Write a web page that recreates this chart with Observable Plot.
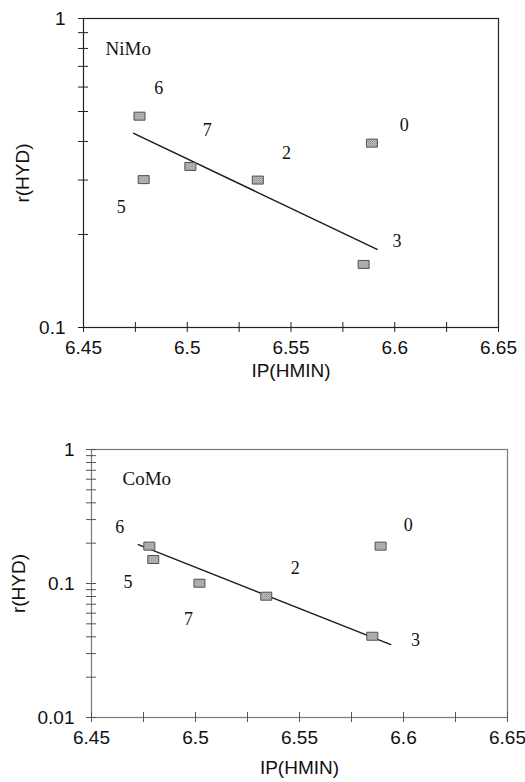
<!DOCTYPE html>
<html><head><meta charset="utf-8">
<script src="https://cdn.jsdelivr.net/npm/d3@7"></script>
<script src="https://cdn.jsdelivr.net/npm/@observablehq/plot@0.6"></script>
<style>body{margin:0;background:#fff} #c svg{display:block}</style>
</head><body><div id="c"></div>
<script>
// ---- data ----
const catalystIds = ["6", "5", "7", "2", "0", "3"];

const nimoIP = [6.477, 6.479, 6.5015, 6.534, 6.589, 6.585];
const nimoR  = [0.483, 0.301, 0.332, 0.300, 0.395, 0.160];
const nimoLabelIP = [6.4863, 6.4682, 6.5096, 6.5478, 6.6046, 6.6011];
const nimoLabelR  = [0.593, 0.2445, 0.434, 0.366, 0.453, 0.1906];
const nimoFitIP = [6.4742, 6.5915];
const nimoFitR  = [0.425, 0.179];

const comoIP = [6.4778, 6.4797, 6.5019, 6.534, 6.589, 6.585];
const comoR  = [0.19, 0.151, 0.1005, 0.0804, 0.19, 0.0404];
const comoLabelIP = [6.4636, 6.4676, 6.4966, 6.548, 6.6023, 6.6058];
const comoLabelR  = [0.264, 0.102, 0.0538, 0.131, 0.2714, 0.0379];
const comoFitIP = [6.4725, 6.5939];
const comoFitR  = [0.1948, 0.035];

const panelNames = ["NiMo", "CoMo"];
const nameIP = [6.4606, 6.4649];
const nameR  = [0.80, 0.607];

const xTicks = [6.45, 6.475, 6.5, 6.525, 6.55, 6.575, 6.6, 6.625, 6.65];
const xLabelTicks = [6.45, 6.5, 6.55, 6.6, 6.65];
const xTickLabels = ["6.45", "6.5", "6.55", "6.6", "6.65"];
const yTicksTop = [0.1, 0.2, 0.3, 0.4, 0.5, 0.6, 0.7, 0.8, 0.9, 1];
const yLabelTicksTop = [0.1, 1];
const yTickLabelsTop = ["0.1", "1"];
const yTicksBottom = [0.01, 0.02, 0.03, 0.04, 0.05, 0.06, 0.07, 0.08, 0.09,
                      0.1, 0.2, 0.3, 0.4, 0.5, 0.6, 0.7, 0.8, 0.9, 1];
const yLabelTicksBottom = [0.01, 0.1, 1];
const yTickLabelsBottom = ["0.01", "0.1", "1"];

// ---- drawing ----
const rectSymbol = {draw(ctx) { const w = 5.5, h = 4;
  ctx.moveTo(-w, -h); ctx.lineTo(w, -h); ctx.lineTo(w, h); ctx.lineTo(-w, h); ctx.closePath(); }};

function panel(cfg) {
  const pts = cfg.ip.map((v, i) => ({ip: v, r: cfg.r[i]}));
  const labs = cfg.labIP.map((v, i) => ({ip: v, r: cfg.labR[i], t: catalystIds[i]}));
  const fit = cfg.fitIP.map((v, i) => ({ip: v, r: cfg.fitR[i]}));
  const xFmt = d => xTickLabels[xLabelTicks.indexOf(d)];
  const yFmt = d => cfg.yLabels[cfg.yLabelTicks.indexOf(d)];
  const svg = Plot.plot({
    width: 525, height: cfg.height,
    marginLeft: cfg.ml, marginRight: cfg.mr, marginTop: cfg.mt, marginBottom: cfg.mb,
    style: {fontFamily: "'Liberation Sans', Arial, sans-serif", fontSize: "19px", color: "#111", background: "#fff"},
    x: {domain: [6.45, 6.65]},
    y: {type: "log", domain: cfg.yDomain},
    marks: [
      Plot.frame({stroke: cfg.frame, strokeWidth: 1.2}),
      Plot.axisX(xTicks, {tickSize: 10, dy: -5, tickFormat: () => "", label: null, stroke: cfg.tick}),
      Plot.axisY(cfg.yTicks, {anchor: "left", tickSize: 10, dx: 5, tickFormat: () => "", label: null, stroke: cfg.tick}),
      Plot.axisX(xLabelTicks, {tickSize: 0, tickPadding: 13, tickFormat: xFmt,
        label: "IP(HMIN)", labelAnchor: "center", labelArrow: false, labelOffset: cfg.xlo, fontSize: 19}),
      Plot.axisY(cfg.yLabelTicks, {anchor: "left", tickSize: 0, tickPadding: cfg.ypad, tickFormat: yFmt,
        label: "r(HYD)", labelAnchor: "center", labelArrow: false, labelOffset: cfg.ylo, fontSize: 19}),
      Plot.line(fit, {x: "ip", y: "r", stroke: "#1a1a1a", strokeWidth: 1.4}),
      Plot.dot(pts, {x: "ip", y: "r", symbol: rectSymbol, r: 5, fill: "url(#dots)", stroke: "#505050", strokeWidth: 1}),
      Plot.text(labs, {x: "ip", y: "r", text: "t", fontFamily: "'Liberation Serif', 'Times New Roman', serif", fontSize: 18, fill: "#111"}),
      Plot.text([cfg.name], {x: () => cfg.nameIP, y: () => cfg.nameR, text: d => d, textAnchor: "start",
        fontFamily: "'Liberation Serif', 'Times New Roman', serif", fontSize: 19, fill: "#111"})
    ]
  });
  const ns = "http://www.w3.org/2000/svg";
  const defs = document.createElementNS(ns, "defs");
  defs.innerHTML = '<pattern id="dots" width="2" height="2" patternUnits="userSpaceOnUse">' +
    '<rect width="2" height="2" fill="#cfcfcf"/><rect width="1" height="1" fill="#7a7a7a"/>' +
    '<rect x="1" y="1" width="1" height="1" fill="#9a9a9a"/></pattern>';
  svg.insertBefore(defs, svg.firstChild);
  return svg;
}

const c = document.getElementById("c");
c.appendChild(panel({height: 390, ml: 83, mr: 27, mt: 18, mb: 63,
  yDomain: [0.1, 1], yTicks: yTicksTop, yLabelTicks: yLabelTicksTop, yLabels: yTickLabelsTop,
  ip: nimoIP, r: nimoR, labIP: nimoLabelIP, labR: nimoLabelR, fitIP: nimoFitIP, fitR: nimoFitR,
  name: panelNames[0], nameIP: nameIP[0], nameR: nameR[0],
  frame: "#222", tick: "#222", xlo: 49, ylo: 68, ypad: 18}));
c.appendChild(panel({height: 392, ml: 91, mr: 18, mt: 59, mb: 65,
  yDomain: [0.01, 1], yTicks: yTicksBottom, yLabelTicks: yLabelTicksBottom, yLabels: yTickLabelsBottom,
  ip: comoIP, r: comoR, labIP: comoLabelIP, labR: comoLabelR, fitIP: comoFitIP, fitR: comoFitR,
  name: panelNames[1], nameIP: nameIP[1], nameR: nameR[1],
  frame: "#7a7a7a", tick: "#555", xlo: 56, ylo: 80, ypad: 17}));
</script>
</body></html>
